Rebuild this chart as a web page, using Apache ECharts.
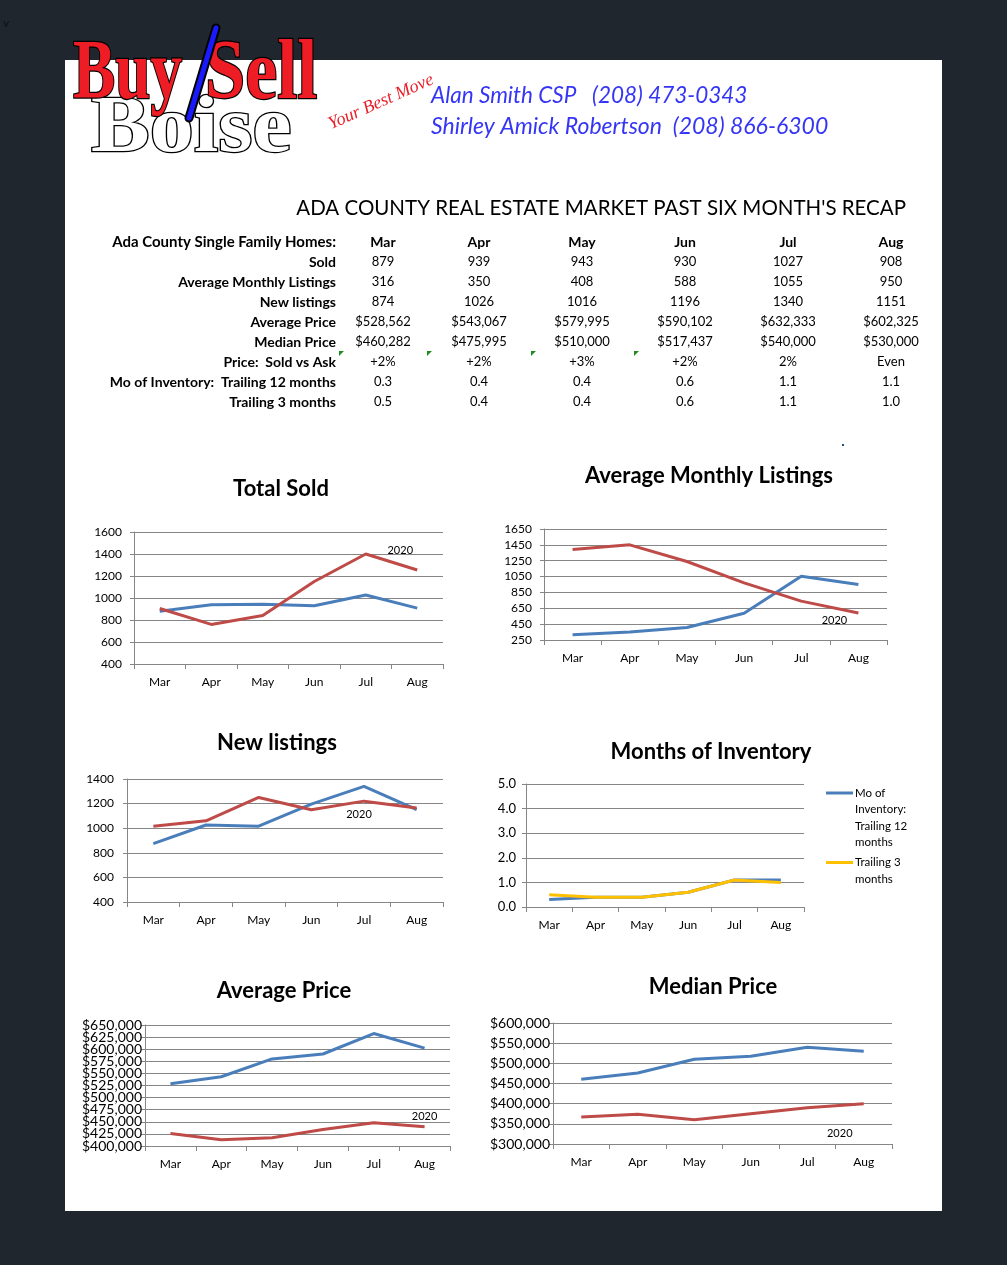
<!DOCTYPE html>
<html>
<head>
<meta charset="utf-8">
<script src="https://cdn.jsdelivr.net/npm/echarts@6/dist/echarts.min.js"></script>
<style>
html,body{margin:0;padding:0;background:#1f262e;}
#main{width:1007px;height:1265px;}
</style>
</head>
<body>
<div id="main"></div>
<script>
// ---------- DATA ----------
const months = ['Mar', 'Apr', 'May', 'Jun', 'Jul', 'Aug'];
const soldCurrent = [879, 939, 943, 930, 1027, 908];
const sold2020 = [905, 760, 840, 1150, 1400, 1255];
const avgListingsCurrent = [316, 350, 408, 588, 1055, 950];
const avgListings2020 = [1390, 1450, 1240, 970, 740, 590];
const newListingsCurrent = [874, 1026, 1016, 1196, 1340, 1151];
const newListings2020 = [1015, 1060, 1250, 1150, 1220, 1165];
const moiTrailing12 = [0.3, 0.4, 0.4, 0.6, 1.1, 1.1];
const moiTrailing3 = [0.5, 0.4, 0.4, 0.6, 1.1, 1.0];
const avgPriceCurrent = [528562, 543067, 579995, 590102, 632333, 602325];
const avgPrice2020 = [426000, 413000, 417000, 434000, 448000, 440000];
const medianPriceCurrent = [460282, 475995, 510000, 517437, 540000, 530000];
const medianPrice2020 = [367000, 374000, 360000, 375000, 390000, 400000];
const priceSoldVsAsk = ['+2%', '+2%', '+3%', '+2%', '2%', 'Even'];
const moiLegendNames = ['Mo of Inventory: Trailing 12 months', 'Trailing 3 months'];
const chartTitles = ['Total Sold', 'Average Monthly Listings', 'New listings', 'Months of Inventory', 'Average Price', 'Median Price'];
const yearLabel = '2020';

// ---------- HELPERS ----------
const FONT = 'Lato, "Open Sans", sans-serif';
const money = v => '$' + Math.round(v).toLocaleString('en-US');
const GRID_COLOR = '#868686';
const BLUE = '#4a7ebb', RED = '#be4b48', YELLOW = '#ffc000';

const chart = echarts.init(document.getElementById('main'), null, {renderer: 'canvas'});

// grids layout
const grids = [
  {left: 134, top: 532, width: 309, height: 132},
  {left: 544, top: 529, width: 343, height: 111},
  {left: 127, top: 779, width: 316, height: 123},
  {left: 526, top: 784, width: 278, height: 123},
  {left: 145, top: 1025, width: 305, height: 121},
  {left: 553, top: 1023, width: 339, height: 121}
];
const yCfg = [
  {min: 400, max: 1600, interval: 200, fmt: v => String(v), size: 12, margin: 12},
  {min: 250, max: 1650, interval: 200, fmt: v => String(v), size: 12, margin: 12},
  {min: 400, max: 1400, interval: 200, fmt: v => String(v), size: 12, margin: 13},
  {min: 0, max: 5, interval: 1, fmt: v => v.toFixed(1), size: 13, margin: 10},
  {min: 400000, max: 650000, interval: 25000, fmt: v => (v % 50000 === 0 ? money(v) : ''), size: 14, margin: 3},
  {min: 300000, max: 600000, interval: 50000, fmt: money, size: 14, margin: 3}
];

const xAxes = grids.map((g, i) => ({
  type: 'category', gridIndex: i, data: months, boundaryGap: true,
  axisLine: {lineStyle: {color: GRID_COLOR, width: 1}},
  axisTick: {show: true, length: 5, lineStyle: {color: GRID_COLOR}},
  axisLabel: {color: '#000', fontFamily: FONT, fontSize: 12, margin: 12}
}));
const yAxes = yCfg.map((c, i) => ({
  type: 'value', gridIndex: i, position: 'left', min: c.min, max: c.max, interval: c.interval,
  axisLine: {show: true, lineStyle: {color: GRID_COLOR, width: 1}},
  axisTick: {show: true, length: 4, lineStyle: {color: GRID_COLOR}},
  splitLine: {show: true, lineStyle: {color: GRID_COLOR, width: 1}},
  axisLabel: {color: '#000', fontFamily: FONT, fontSize: c.size, margin: c.margin, formatter: c.fmt,
    showMinLabel: true, showMaxLabel: true, hideOverlap: false}
}));
// companion label axis for the Average Price chart (odd $25,000 steps)
yAxes.push({
  type: 'value', gridIndex: 4, position: 'left', offset: 0, min: yCfg[4].min, max: yCfg[4].max, interval: yCfg[4].interval,
  axisLine: {show: false}, axisTick: {show: false}, splitLine: {show: false},
  axisLabel: {color: '#000', fontFamily: FONT, fontSize: 14, margin: 3, showMinLabel: true, showMaxLabel: true, hideOverlap: false,
    formatter: v => (v % 50000 !== 0 ? money(v) : '')}
});

function lineSeries(name, data, idx, color, mark) {
  const s = {
    name: name, type: 'line', xAxisIndex: idx, yAxisIndex: idx, data: data,
    symbol: 'none', smooth: false, lineStyle: {color: color, width: 3}, itemStyle: {color: color},
    silent: true, animation: false
  };
  if (mark) {
    s.markPoint = {
      symbol: 'circle', symbolSize: 1, itemStyle: {color: 'rgba(0,0,0,0)'}, silent: true,
      label: {show: true, formatter: yearLabel, color: '#000', fontFamily: FONT, fontSize: 11, position: 'inside', offset: mark.offset},
      data: [{coord: [months[mark.i], data[mark.i]]}]
    };
  }
  return s;
}

const series = [
  lineSeries('Sold', soldCurrent, 0, BLUE),
  lineSeries('Sold 2020', sold2020, 0, RED, {i: 5, offset: [-17, -19]}),
  lineSeries('Average Monthly Listings', avgListingsCurrent, 1, BLUE),
  lineSeries('Average Monthly Listings 2020', avgListings2020, 1, RED, {i: 5, offset: [-24, 7]}),
  lineSeries('New listings', newListingsCurrent, 2, BLUE),
  lineSeries('New listings 2020', newListings2020, 2, RED, {i: 4, offset: [-5, 13]}),
  lineSeries(moiLegendNames[0], moiTrailing12, 3, BLUE),
  lineSeries(moiLegendNames[1], moiTrailing3, 3, YELLOW),
  lineSeries('Average Price', avgPriceCurrent, 4, BLUE),
  lineSeries('Average Price 2020', avgPrice2020, 4, RED, {i: 5, offset: [0, -10]}),
  lineSeries('Median Price', medianPriceCurrent, 5, BLUE),
  lineSeries('Median Price 2020', medianPrice2020, 5, RED, {i: 5, offset: [-24, 30]})
];

// ---------- GRAPHICS ----------
const g = [];
// white page
g.push({type: 'rect', z: -10, silent: true, shape: {x: 65, y: 60, width: 877, height: 1151}, style: {fill: '#ffffff'}});
// small v
g.push({type: 'text', silent: true, x: 6, y: 23, style: {text: 'v', font: '12px ' + FONT, fill: '#111', textAlign: 'center', textVerticalAlign: 'middle'}});

// logo
g.push({type: 'text', silent: true, x: 91, y: 130, scaleX: 1.1, style: {text: 'Boise', font: 'bold 80px "Liberation Serif"', fill: '#ffffff', stroke: '#000000', lineWidth: 2.5, textVerticalAlign: 'middle'}});
g.push({type: 'text', silent: true, x: 73, y: 76, scaleX: 0.72, scaleY: 0.95, style: {text: 'Buy', font: 'bold 88px "Liberation Serif"', fill: '#ee1c24', stroke: '#000000', lineWidth: 2.5, textVerticalAlign: 'middle'}});
g.push({type: 'text', silent: true, x: 205, y: 76, scaleX: 0.82, scaleY: 0.95, style: {text: 'Sell', font: 'bold 88px "Liberation Serif"', fill: '#ee1c24', stroke: '#000000', lineWidth: 2.5, textVerticalAlign: 'middle'}});
g.push({type: 'line', silent: true, shape: {x1: 216, y1: 28, x2: 189, y2: 118}, style: {stroke: '#000', lineWidth: 9, lineCap: 'round'}});
g.push({type: 'line', silent: true, shape: {x1: 216, y1: 28, x2: 189, y2: 118}, style: {stroke: '#1a1aff', lineWidth: 5, lineCap: 'round'}});

// tagline
g.push({type: 'text', silent: true, x: 381, y: 102, rotation: 24 * Math.PI / 180, style: {text: 'Your Best Move', font: 'italic 18px "Liberation Serif"', fill: '#e8202a', textAlign: 'center', textVerticalAlign: 'middle'}});
// contacts
g.push({type: 'text', silent: true, x: 431, y: 96, style: {text: 'Alan Smith CSP   (208) 473-0343', font: 'italic 22.5px ' + FONT, fill: '#3535f5', textVerticalAlign: 'middle'}});
g.push({type: 'text', silent: true, x: 431, y: 127, style: {text: 'Shirley Amick Robertson  (208) 866-6300', font: 'italic 23px ' + FONT, fill: '#3535f5', textVerticalAlign: 'middle'}});

// header title
g.push({type: 'text', silent: true, x: 906, y: 208, style: {text: "ADA COUNTY REAL ESTATE MARKET PAST SIX MONTH'S RECAP", font: '20.5px ' + FONT, fill: '#000', textAlign: 'right', textVerticalAlign: 'middle'}});

// table
const colX = [383, 479, 582, 685, 788, 891];
const labelRight = 336;
const rowY0 = 242, rowStep = 20;
const tableRows = [
  {label: 'Ada County Single Family Homes:', values: months, bold: true, labelSize: 15},
  {label: 'Sold', values: soldCurrent.map(String)},
  {label: 'Average Monthly Listings', values: avgListingsCurrent.map(String)},
  {label: 'New listings', values: newListingsCurrent.map(String)},
  {label: 'Average Price', values: avgPriceCurrent.map(money)},
  {label: 'Median Price', values: medianPriceCurrent.map(money)},
  {label: 'Price:  Sold vs Ask', values: priceSoldVsAsk},
  {label: 'Mo of Inventory:  Trailing 12 months', values: moiTrailing12.map(v => v.toFixed(1))},
  {label: 'Trailing 3 months', values: moiTrailing3.map(v => v.toFixed(1))}
];
tableRows.forEach((r, ri) => {
  const y = rowY0 + ri * rowStep;
  g.push({type: 'text', silent: true, x: labelRight, y: y, style: {text: r.label, font: 'bold ' + (r.labelSize || 14) + 'px ' + FONT, fill: '#000', textAlign: 'right', textVerticalAlign: 'middle'}});
  r.values.forEach((v, ci) => {
    g.push({type: 'text', silent: true, x: colX[ci], y: y, style: {text: v, font: (r.bold ? 'bold 14px ' : '13px ') + FONT, fill: '#000', textAlign: 'center', textVerticalAlign: 'middle'}});
  });
});
// green cell indicators
[339, 427, 531, 634].forEach(x => {
  g.push({type: 'polygon', silent: true, shape: {points: [[x, 351], [x + 5, 351], [x, 356]]}, style: {fill: '#1e8c1e'}});
});
g.push({type: 'rect', silent: true, shape: {x: 842, y: 444, width: 2, height: 2}, style: {fill: '#1f4e79'}});

// chart titles
const titlePos = [[281, 489], [709, 476], [277, 743], [711, 752], [284, 991], [713, 987]];
chartTitles.forEach((t, i) => {
  g.push({type: 'text', silent: true, x: titlePos[i][0], y: titlePos[i][1], style: {text: t, font: 'bold 22px ' + FONT, fill: '#000', textAlign: 'center', textVerticalAlign: 'middle'}});
});

// MOI legend
const legendItems = [
  {color: BLUE, y: 793, text: 'Mo of\nInventory:\nTrailing 12\nmonths'},
  {color: YELLOW, y: 862.5, text: 'Trailing 3\nmonths'}
];
legendItems.forEach(it => {
  g.push({type: 'line', silent: true, shape: {x1: 826, y1: it.y, x2: 853, y2: it.y}, style: {stroke: it.color, lineWidth: 3}});
  g.push({type: 'text', silent: true, x: 855, y: it.y - 8.25, style: {text: it.text, font: '11.5px ' + FONT, lineHeight: 16.5, fill: '#000', textVerticalAlign: 'top'}});
});

chart.setOption({
  backgroundColor: '#1f262e',
  animation: false,
  grid: grids.map(gr => Object.assign({containLabel: false}, gr)),
  xAxis: xAxes,
  yAxis: yAxes,
  series: series,
  graphic: {elements: g}
});
</script>
</body>
</html>
